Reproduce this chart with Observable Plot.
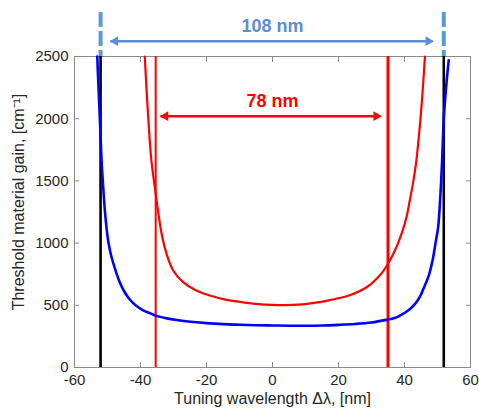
<!DOCTYPE html>
<html>
<head>
<meta charset="utf-8">
<script src="https://cdn.jsdelivr.net/npm/d3@7"></script>
<script src="https://cdn.jsdelivr.net/npm/@observablehq/plot@0.6"></script>
<style>
  html, body { margin: 0; padding: 0; background: #fff; }
</style>
</head>
<body>
<div id="chart"></div>
<script>
// ---- data ----
const xTicks = [-60, -40, -20, 0, 20, 40, 60];
const yTicks = [0, 500, 1000, 1500, 2000, 2500];
const xLabel = "Tuning wavelength Δλ, [nm]";
const yLabel = "Threshold material gain, [cm⁻¹]";

const blueX = [-53.1, -52.8, -52.3, -51.8, -51.3, -50.8, -50.2, -49.8, -48.9, -47.8, -46.5, -45, -43.5, -41.5, -39.2, -37, -35.4, -32, -28, -24, -20, -15, -10, -5, 0, 5, 10, 15, 20, 25, 30, 34.5, 37, 38.5, 41.1, 43, 44.7, 46, 47.2, 48.5, 49.4, 50.2, 50.8, 51.4, 51.9, 52.6, 53.4];
const blueY = [2500, 2300, 1990, 1664, 1450, 1262, 1100, 1020, 900, 800, 700, 615, 555, 500, 460, 435, 417, 395, 378, 366, 357, 349, 344, 340, 338, 336, 336, 338, 343, 350, 362, 383, 398, 415, 458, 505, 570, 650, 726, 860, 1000, 1128, 1350, 1664, 2000, 2250, 2470];

const redX = [-38.7, -38.2, -37.7, -36.7, -35.3, -34.7, -33.6, -32.1, -30.1, -27.1, -23.1, -19, -13.9, -9.9, -5, 0, 4, 8, 12, 17.4, 23.4, 28.5, 32.5, 34.7, 37.1, 39.1, 40.6, 41.6, 42.7, 43.6, 44.5, 45.3, 46.2];
const redY = [2500, 2250, 2026, 1664, 1380, 1262, 1075, 914, 780, 686, 619, 579, 544, 528, 512, 503, 501, 505, 517, 542, 581, 645, 740, 820, 940, 1075, 1208, 1342, 1500, 1664, 1900, 2150, 2500];

const blackLines = [-52.1, 51.9];
const redLines = [-35.4, 35.0];
const redLineWidths = [2, 3];
const dashedLines = [-52.1, 51.9];
const dashedTop = 2854;

const blueSpan = { x1: -49, x2: 48.6, y: 2623, label: "108 nm", ly: 2741 };
const redSpan = { x1: -33.8, x2: 32.8, y: 2020, label: "78 nm", ly: 2138 };

// ---- build ----
const blueData = blueX.map((x, i) => ({ x, y: blueY[i] }));
const redData = redX.map((x, i) => ({ x, y: redY[i] }));
const redLineData = redLines.map((x, i) => ({ x, w: redLineWidths[i] }));

const BLUE_ANN = "#5B8ED5";
const gray = "#8a8a8a";
const font = "'Liberation Sans', Arial, sans-serif";
const fmt = d => String(d);

function spanMarks(s, color) {
  return [
    Plot.ruleY([s], { x1: "x1", x2: "x2", y: "y", stroke: color, strokeWidth: 2.6 }),
    Plot.dot([s], { x: "x1", y: "y", symbol: "triangle", r: 3.6, rotate: -90, fill: color, stroke: null, dx: 4.5 }),
    Plot.dot([s], { x: "x2", y: "y", symbol: "triangle", r: 3.6, rotate: 90, fill: color, stroke: null, dx: -4.5 }),
    Plot.text([s], { x: 0, y: "ly", text: "label", fill: color, fontWeight: "bold", fontSize: 18, fontFamily: font })
  ];
}

const chart = Plot.plot({
  width: 479,
  height: 409,
  marginLeft: 74,
  marginRight: 9,
  marginTop: 56,
  marginBottom: 42,
  style: { fontFamily: font, fontSize: "15px", color: "#262626", background: "#fff", overflow: "visible" },
  x: { domain: [-60, 60] },
  y: { domain: [0, 2500] },
  marks: [
    Plot.frame({ stroke: gray }),
    Plot.axisX(xTicks, { tickSize: 0, tickPadding: 7, fontSize: 15, tickFormat: fmt, label: null, fill: "#262626" }),
    Plot.axisX(xTicks, { tickSize: -5, tickFormat: () => "", stroke: gray, label: null }),
    Plot.axisX(xTicks, { anchor: "top", tickSize: -5, tickFormat: () => "", stroke: gray, label: null }),
    Plot.axisY(yTicks, { tickSize: 0, tickPadding: 6, fontSize: 15, tickFormat: fmt, label: null, fill: "#262626" }),
    Plot.axisY(yTicks, { tickSize: -5, tickFormat: () => "", stroke: gray, label: null }),
    Plot.axisY(yTicks, { anchor: "right", tickSize: -5, tickFormat: () => "", stroke: gray, label: null }),
    Plot.text([xLabel], { frameAnchor: "bottom", dy: 31, fontSize: 16, fill: "#262626", lineAnchor: "middle", textAnchor: "middle" }),
    Plot.text([yLabel], { frameAnchor: "left", dx: -56, dy: -10, rotate: -90, fontSize: 16, fill: "#262626", lineAnchor: "middle", textAnchor: "middle" }),
    Plot.ruleX(dashedLines, { y1: dashedTop, y2: 2500, stroke: "#5B9BD5", strokeWidth: 4, strokeDasharray: "15,4" }),
    Plot.ruleX(blackLines, { y1: 0, y2: 2500, stroke: "#000", strokeWidth: 2.6 }),
    Plot.ruleX(redLineData, { x: "x", y1: 0, y2: 2500, stroke: "#ff0000", strokeWidth: "w" }),
    Plot.line(blueData, { x: "x", y: "y", stroke: "#0000ff", strokeWidth: 2.6, curve: "catmull-rom" }),
    Plot.line(redData, { x: "x", y: "y", stroke: "#ff0000", strokeWidth: 2.2, curve: "catmull-rom" }),
    ...spanMarks(blueSpan, BLUE_ANN),
    ...spanMarks(redSpan, "#ff0000")
  ]
});
document.getElementById("chart").appendChild(chart);
</script>
</body>
</html>
